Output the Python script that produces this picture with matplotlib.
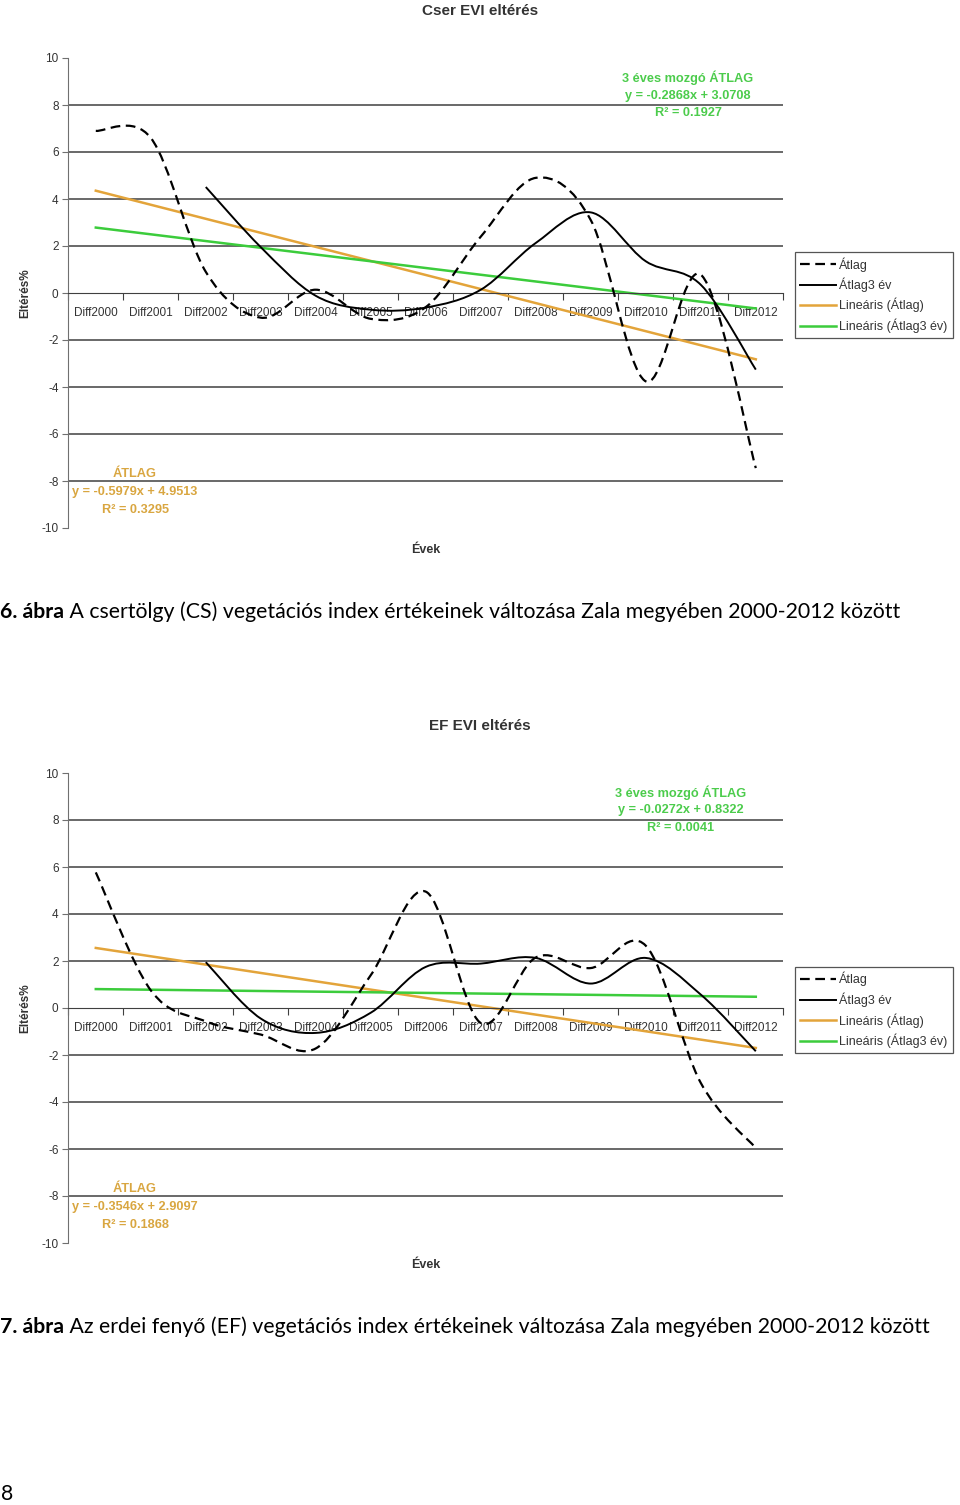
import matplotlib
matplotlib.use("Agg")
import matplotlib.pyplot as plt
from matplotlib.path import Path
from matplotlib.patches import PathPatch
from matplotlib.lines import Line2D
import numpy as np

plt.rcParams['lines.scale_dashes'] = False
plt.rcParams['axes.unicode_minus'] = False

W, H = 960, 1505

years = ["Diff2000", "Diff2001", "Diff2002", "Diff2003", "Diff2004", "Diff2005", "Diff2006",
         "Diff2007", "Diff2008", "Diff2009", "Diff2010", "Diff2011", "Diff2012"]

# Cser (CS) chart values
cs_atlag = [6.9, 6.6, 0.9, -1.05, 0.14, -1.1, -0.6, 2.4, 4.9, 3.1, -3.76, 0.78, -7.45]
cs_atlag3 = [4.51, 1.95, -0.12, -0.71, -0.62, 0.14, 2.13, 3.43, 1.35, 0.35, -3.26]  # from Diff2002
cs_fit = (-0.5979, 4.9513, 0.3295)
cs_fit3 = (-0.2868, 3.0708, 0.1927)

# Erdei fenyő (EF) chart values
ef_atlag = [5.77, 0.75, -0.57, -1.13, -1.72, 1.4, 4.95, -0.64, 2.15, 1.7, 2.65, -3.19, -5.96]
ef_atlag3 = [1.95, -0.45, -1.06, -0.2, 1.75, 1.89, 2.13, 1.04, 2.13, 0.57, -1.84]  # from Diff2002
ef_fit = (-0.3546, 2.9097, 0.1868)
ef_fit3 = (-0.0272, 0.8322, 0.0041)

ORANGE = "#e3a43a"
GREEN = "#3ccc3c"
ORANGE_TXT = "#d9a640"
GREEN_TXT = "#4ccc4c"
DASH = (0, (7, 4))
FONT = ["Liberation Sans", "DejaVu Sans"]


def fx(x):
    return x / W


def fy(y):
    return 1 - y / H


def smooth_path(xs, ys):
    # excel-like smoothed line: cubic bezier through the points
    xs = np.asarray(xs, float)
    ys = np.asarray(ys, float)
    n = len(xs)
    verts = [(xs[0], ys[0])]
    codes = [Path.MOVETO]
    for i in range(n - 1):
        a = i - 1 if i > 0 else i
        d = i + 2 if i + 2 < n else i + 1
        c1 = (xs[i] + (xs[i + 1] - xs[a]) / 6, ys[i] + (ys[i + 1] - ys[a]) / 6)
        c2 = (xs[i + 1] - (xs[d] - xs[i]) / 6, ys[i + 1] - (ys[d] - ys[i]) / 6)
        verts += [c1, c2, (xs[i + 1], ys[i + 1])]
        codes += [Path.CURVE4] * 3
    return Path(verts, codes)


def chart(fig, top, title, atlag, atlag3, fit, fit3, green_cx):
    ax = fig.add_axes([fx(68.3), fy(top + 470), fx(715), 470 / H])
    ax.set_xlim(-0.5, 12.5)
    ax.set_ylim(-10, 10)
    for s in ["top", "right"]:
        ax.spines[s].set_visible(False)
    ax.spines["left"].set_color("#707070")
    ax.spines["bottom"].set_position(("data", 0))
    ax.spines["bottom"].set_color("#404040")
    for g in range(-8, 9, 2):
        if g != 0:
            ax.axhline(g, color="#404040", lw=1.1, zorder=1)

    ax.set_yticks(range(-10, 11, 2))
    ax.tick_params(axis="y", length=4, color="#707070", labelsize=8.5, labelcolor="#333333", pad=3)
    ax.set_xticks(np.arange(-0.5, 13, 1))
    ax.set_xticklabels([])
    ax.tick_params(axis="x", which="major", length=5, color="#404040")
    ax.set_xticks(range(13), minor=True)
    ax.set_xticklabels(years, minor=True)
    ax.tick_params(axis="x", which="minor", length=0, pad=10, labelsize=8.5, labelcolor="#333333")

    xi = np.arange(13)
    m, b, r2 = fit
    m3, b3, r23 = fit3
    ax.plot(xi, m * (xi + 1) + b, color=ORANGE, lw=1.8, zorder=2)
    ax.plot(xi, m3 * (xi + 1) + b3, color=GREEN, lw=1.8, zorder=2)
    ax.add_patch(PathPatch(smooth_path(xi, atlag), fill=False, ec="black", lw=1.6,
                           ls=DASH, zorder=3))
    ax.add_patch(PathPatch(smooth_path(xi[2:], atlag3), fill=False, ec="black", lw=1.4,
                           zorder=3))

    fig.text(0.5, fy(top - 47), title, ha="center", va="center", fontsize=11,
             fontweight="bold", color="#333333")
    fig.text(fx(25), fy(top + 235), "Eltérés%", rotation=90, ha="center", va="center",
             fontsize=8.5, fontweight="bold", color="#333333")
    fig.text(fx(426), fy(top + 492), "Évek", ha="center", va="center", fontsize=9,
             fontweight="bold", color="#333333")

    g_lines = ["3 éves mozgó ÁTLAG", f"y = {m3:.4f}x + {b3:.4f}", f"R² = {r23:.4f}"]
    for k, t in enumerate(g_lines):
        fig.text(fx(green_cx), fy(top + 20 + 17.5 * k), t, ha="center", va="center",
                 fontsize=9.2, fontweight="bold", color=GREEN_TXT)
    o_lines = ["ÁTLAG", f"y = {m:.4f}x + {b:.4f}", f"R² = {r2:.4f}"]
    for k, t in enumerate(o_lines):
        fig.text(fx(135), fy(top + 416 + 18 * k), t, ha="center", va="center",
                 fontsize=9.2, fontweight="bold", color=ORANGE_TXT)

    handles = [Line2D([], [], color="black", lw=1.6, ls=DASH),
               Line2D([], [], color="black", lw=1.4),
               Line2D([], [], color=ORANGE, lw=1.8),
               Line2D([], [], color=GREEN, lw=1.8)]
    labels = ["Átlag", "Átlag3 év", "Lineáris (Átlag)", "Lineáris (Átlag3 év)"]
    leg = ax.legend(handles, labels, loc="upper left", bbox_to_anchor=(fx(795), fy(top + 194)),
                    bbox_transform=fig.transFigure, borderaxespad=0, fontsize=9,
                    handlelength=2.9, handletextpad=0.25, labelspacing=0.48, borderpad=0.4,
                    fancybox=False, framealpha=1, edgecolor="#555555")
    leg.get_frame().set_linewidth(0.9)
    for t in leg.get_texts():
        t.set_color("#333333")
    return ax


plt.rcParams["font.family"] = FONT
fig = plt.figure(figsize=(W / 100, H / 100), dpi=100)

chart(fig, 58, "Cser EVI eltérés", cs_atlag, cs_atlag3, cs_fit, cs_fit3, 688)
chart(fig, 773, "EF EVI eltérés", ef_atlag, ef_atlag3, ef_fit, ef_fit3, 681)

# captions below each chart
CAP_FONT = ["Lato", "DejaVu Sans"]
caps = [(612, "6. ábra", " A csertölgy (CS) vegetációs index értékeinek változása Zala megyében 2000-2012 között"),
        (1327, "7. ábra", " Az erdei fenyő (EF) vegetációs index értékeinek változása Zala megyében 2000-2012 között")]
renderer = fig.canvas.get_renderer()
probe = fig.text(0, 0, caps[0][1] + caps[0][2], fontsize=15, family=CAP_FONT)
cap_size = 15 * 901 / probe.get_window_extent(renderer).width
probe.remove()

for y, bold, rest in caps:
    t1 = fig.text(0.0, fy(y), bold, fontsize=cap_size, fontweight="bold", family=CAP_FONT,
                  va="center", color="black")
    x1 = t1.get_window_extent(renderer).x1
    fig.text(x1 / W, fy(y), rest, fontsize=cap_size, family=CAP_FONT, va="center", color="black")

fig.text(fx(1), fy(1494), "8", fontsize=cap_size, family=CAP_FONT, va="center")

fig.savefig("out.png", dpi=100)
